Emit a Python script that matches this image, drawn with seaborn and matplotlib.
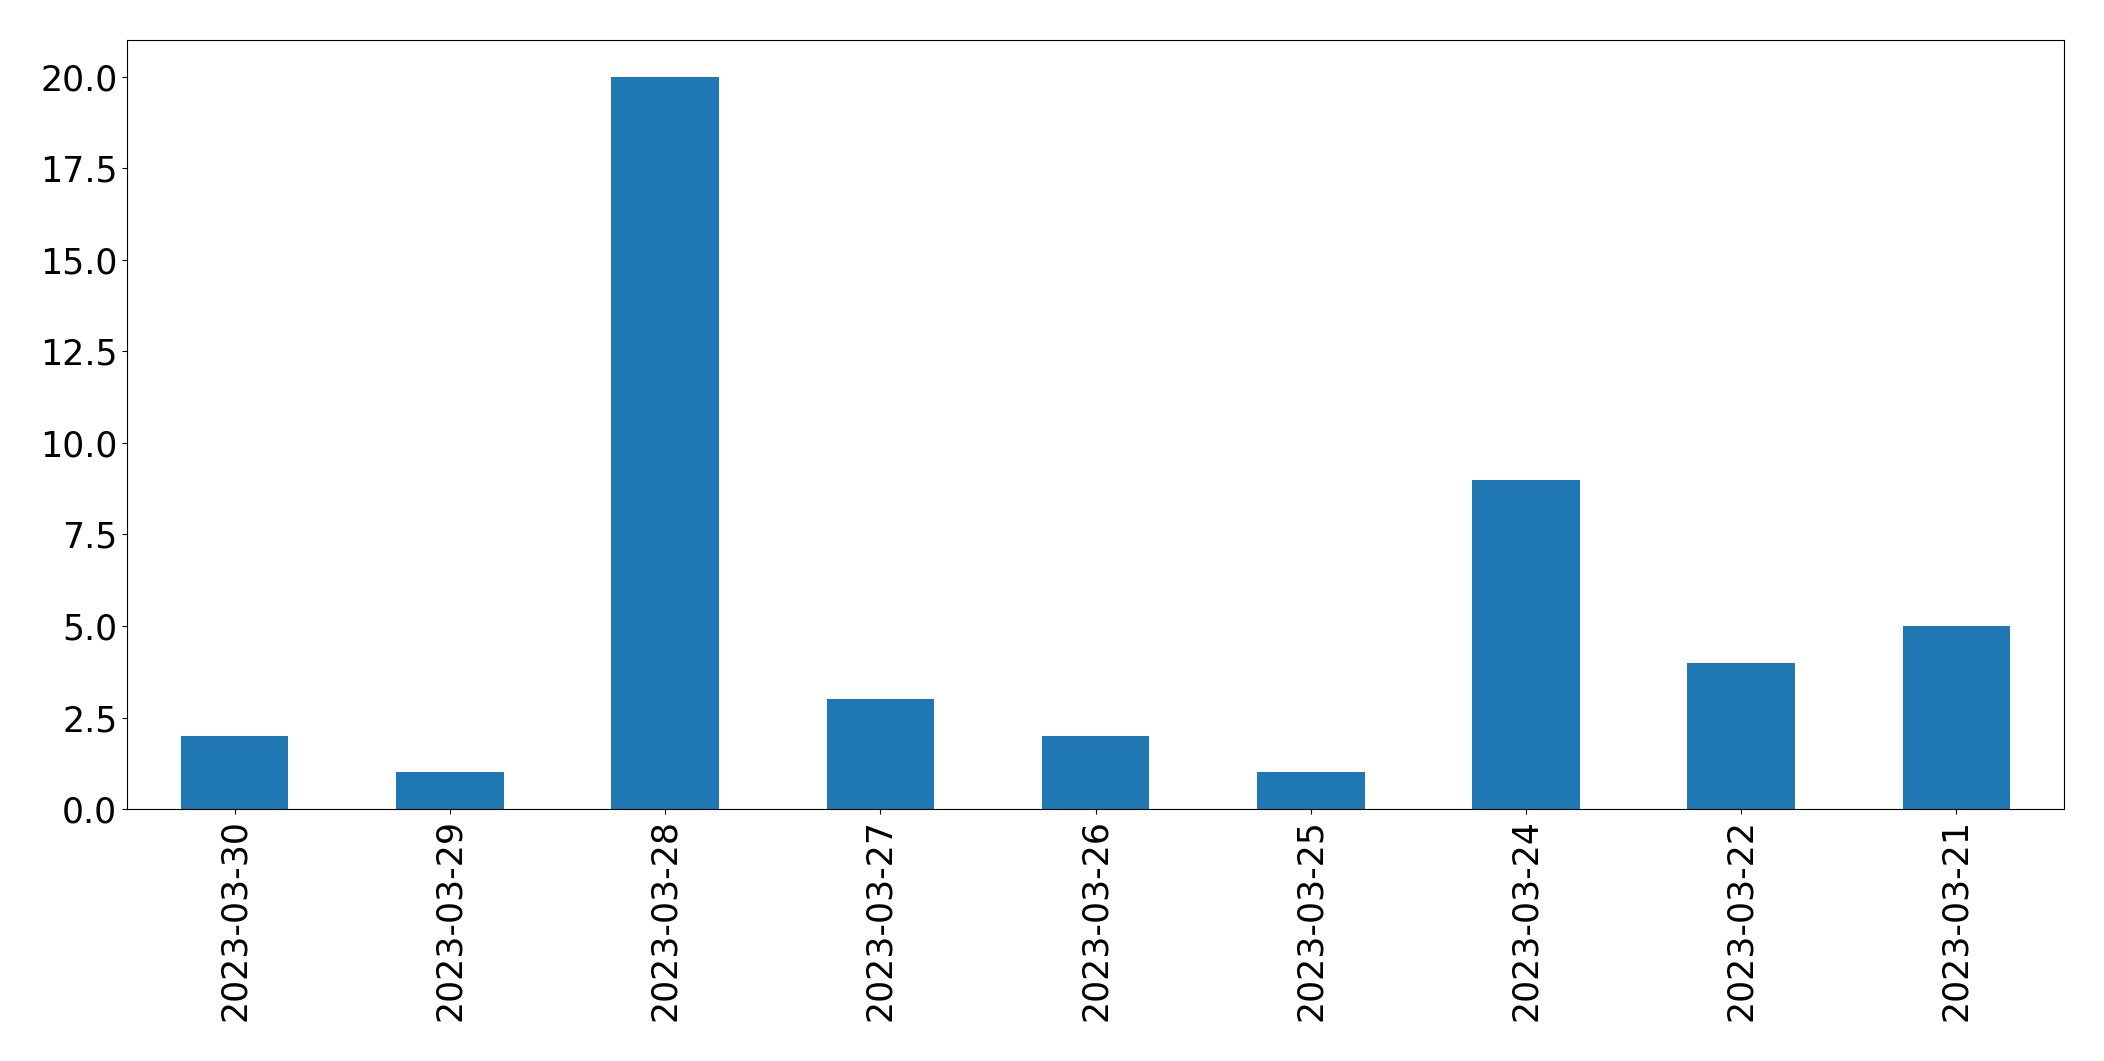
import matplotlib
matplotlib.use("Agg")
import matplotlib.pyplot as plt
import seaborn as sns
import pandas as pd

dates = ["2023-03-30", "2023-03-29", "2023-03-28", "2023-03-27", "2023-03-26",
         "2023-03-25", "2023-03-24", "2023-03-22", "2023-03-21"]
counts = [2, 1, 20, 3, 2, 1, 9, 4, 5]

df = pd.DataFrame({"date": dates, "count": counts})

fig = plt.figure(figsize=(21.04, 10.61), dpi=100)
ax = fig.add_axes([0.0604, 0.2375, 0.9206, 0.7245])
sns.barplot(data=df, x="date", y="count", color="#1f77b4", saturation=1,
            width=0.5, ax=ax)
ax.set_xlim(-0.5, len(dates) - 0.5)
ax.set_ylim(0, 21)
ax.set_xlabel("")
ax.set_ylabel("")
ax.tick_params(axis="x", labelrotation=90, labelsize=25)
ax.tick_params(axis="y", labelsize=25)
ax.yaxis.set_major_formatter(matplotlib.ticker.FormatStrFormatter("%.1f"))
fig.savefig("out.png", dpi=100)
